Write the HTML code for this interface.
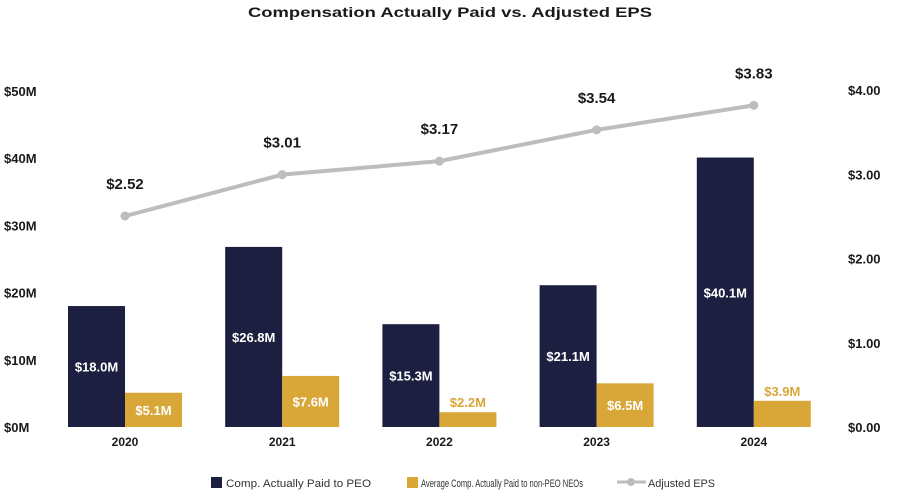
<!DOCTYPE html>
<html><head><meta charset="utf-8"><style>
body{margin:0;background:#fff;}
svg{display:block;font-family:"Liberation Sans",sans-serif;}
</style></head><body>
<svg id="chart" width="900" height="492">
<text x="450" y="17" text-anchor="middle" font-size="14" font-weight="bold" fill="#1a1a1a" textLength="404" lengthAdjust="spacingAndGlyphs">Compensation Actually Paid vs. Adjusted EPS</text>
<g id="axes"></g><g id="bars"></g><g id="line"></g>
<g>
<rect x="211" y="477" width="11" height="11" fill="#1c1f3f"/>
<text x="226" y="487" font-size="11" fill="#333" textLength="145" lengthAdjust="spacingAndGlyphs">Comp. Actually Paid to PEO</text>
<rect x="407" y="477" width="11" height="11" fill="#d9a638"/>
<text x="421" y="487" font-size="11" fill="#333" textLength="162" lengthAdjust="spacingAndGlyphs">Average Comp. Actually Paid to non-PEO NEOs</text>
<line x1="617" y1="482" x2="646" y2="482" stroke="#bdbdbd" stroke-width="3"/>
<circle cx="631" cy="482" r="4" fill="#bdbdbd"/>
<text x="648" y="487" font-size="11" fill="#333" textLength="67" lengthAdjust="spacingAndGlyphs">Adjusted EPS</text>
</g>
</svg>
<script>
const years=["2020","2021","2022","2023","2024"];
const peo=[18.0,26.8,15.3,21.1,40.1];
const neo=[5.1,7.6,2.2,6.5,3.9];
const eps=[2.52,3.01,3.17,3.54,3.83];
const leftTicks=[0,10,20,30,40,50];
const rightTicks=[0,1,2,3,4];
const NS="http://www.w3.org/2000/svg";
const y0=427;
const yL=v=>y0-v*6.72;
const yR=v=>429-v*84.5;
const yRt=v=>y0-v*84.25;
const xc=i=>125+i*157.2;
const bw=57;
function mk(tag,attrs,parent,text){const e=document.createElementNS(NS,tag);for(const k in attrs)e.setAttribute(k,attrs[k]);if(text!==undefined)e.textContent=text;parent.appendChild(e);return e;}
const ax=document.getElementById('axes'),bars=document.getElementById('bars'),ln=document.getElementById('line');
leftTicks.forEach(t=>{const e=mk('text',{x:4,y:yL(t)+5,'font-size':13,'font-weight':'bold',fill:'#1a1a1a'},ax,'$'+t+'M');

});
rightTicks.forEach(t=>{const e=mk('text',{x:848,y:yRt(t)+5,'font-size':13,'font-weight':'bold',fill:'#1a1a1a'},ax,'$'+t.toFixed(2));

});
years.forEach((yr,i)=>{
const e=mk('text',{x:xc(i),y:446,'text-anchor':'middle','font-size':12,'font-weight':'bold',fill:'#1a1a1a'},ax,yr);


const b=mk('rect',{x:xc(i)-bw,y:yL(peo[i]),width:bw,height:y0-yL(peo[i]),fill:'#1c1f3f'},bars);


const lb=mk('text',{x:xc(i)-bw/2,y:(yL(peo[i])+y0)/2+5,'text-anchor':'middle','font-size':13,'font-weight':'bold',fill:'#fff'},bars,'$'+peo[i].toFixed(1)+'M');


const n=mk('rect',{x:xc(i),y:yL(neo[i]),width:bw,height:y0-yL(neo[i]),fill:'#d9a638'},bars);


const inside=neo[i]>=5;
const nl=mk('text',{x:xc(i)+bw/2,y:inside?(yL(neo[i])+y0)/2+5:yL(neo[i])-5,'text-anchor':'middle','font-size':13,'font-weight':'bold',fill:inside?'#fff':'#d9a638'},bars,'$'+neo[i].toFixed(1)+'M');


});
const pts=eps.map((v,i)=>[xc(i),yR(v)]);
const pl=mk('polyline',{points:pts.map(p=>p.join(',')).join(' '),fill:'none',stroke:'#bdbdbd','stroke-width':4},ln);


pts.forEach((p,i)=>{
const c=mk('circle',{cx:p[0],cy:p[1],r:4.5,fill:'#bdbdbd'},ln);


const t=mk('text',{x:p[0],y:p[1]-27,'text-anchor':'middle','font-size':15,'font-weight':'bold',fill:'#1a1a1a'},ln,'$'+eps[i].toFixed(2));


});
</script>
</body></html>
